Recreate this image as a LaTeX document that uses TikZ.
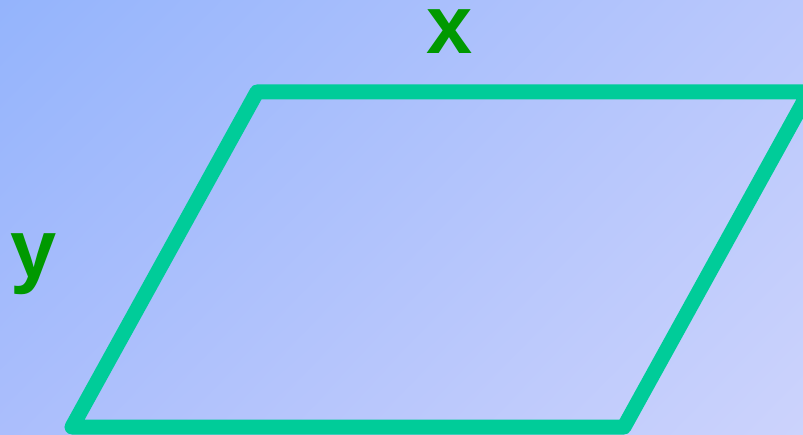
\documentclass[tikz,border=0pt]{standalone}
\usepackage{fontspec}
\setmainfont{Liberation Sans}
\usepackage{xcolor}
\usetikzlibrary{positioning,shadings}
\definecolor{bgtl}{HTML}{94B4FC}
\definecolor{bgtr}{HTML}{BAC8FC}
\definecolor{bgbl}{HTML}{ABBEFC}
\definecolor{bgbr}{HTML}{CCD3FC}
\definecolor{edgegreen}{HTML}{00CC99}
\definecolor{labelgreen}{HTML}{009900}

\begin{document}
\begin{tikzpicture}[
  x=1pt,y=-1pt,
  side/.style={draw=edgegreen,line width=15pt,line join=round},
  lbl/.style={text=labelgreen,font=\fontsize{83}{83}\selectfont\bfseries,inner sep=0pt,anchor=base,text height=45pt}]
\useasboundingbox (0,0) rectangle (803,435);
\shade[upper left=bgtl,upper right=bgtr,lower left=bgbl,lower right=bgbr] (0,0) rectangle (803,435);
\coordinate (tl) at (257,92);
\coordinate (tr) at (809,92);
\coordinate (br) at (624,427);
\coordinate (bl) at (72,427);
\draw[side] (tl) -- (tr) -- (br) -- (bl) -- cycle;
\node[lbl] (xlab) at (449.5,54) {x};
\node[lbl] (ylab) at (34,278) {y};
\end{tikzpicture}
\end{document}
